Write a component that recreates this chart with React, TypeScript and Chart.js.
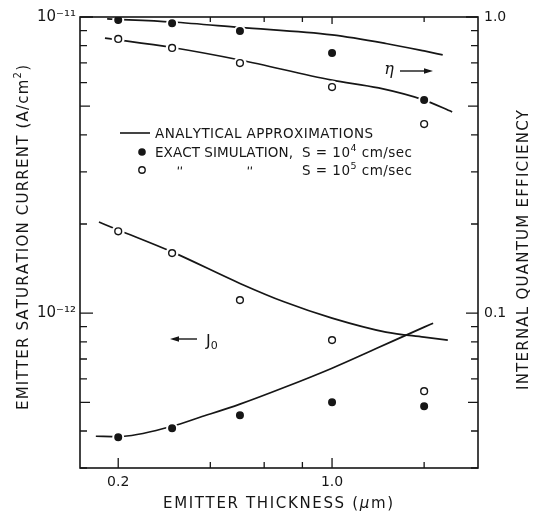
import { useEffect, useRef } from 'react';
import { Chart, registerables } from 'chart.js';

Chart.register(...registerables);

const FONT = '"DejaVu Sans", sans-serif';
const INK = '#161616';

// ---- data ----
const thickness = [0.2, 0.3, 0.5, 1.0, 2.0];
const etaExactS4 = [0.977, 0.952, 0.897, 0.756, 0.524];
const etaExactS5 = [0.843, 0.786, 0.699, 0.58, 0.435];
const j0ExactS4 = [3.81e-13, 4.09e-13, 4.52e-13, 5.0e-13, 4.85e-13];
const j0ExactS5 = [1.89e-12, 1.595e-12, 1.107e-12, 8.11e-13, 5.45e-13];

const etaApproxS4X = [0.184, 0.3, 0.5, 1.0, 1.5, 2.0, 2.3];
const etaApproxS4 = [0.985, 0.962, 0.922, 0.87, 0.814, 0.768, 0.745];
const etaApproxS5X = [0.181, 0.3, 0.5, 1.0, 1.42, 2.0, 2.47];
const etaApproxS5 = [0.849, 0.789, 0.716, 0.612, 0.576, 0.524, 0.478];
const j0ApproxS5X = [0.173, 0.2, 0.3, 0.5, 0.7, 1.0, 1.5, 2.0, 2.39];
const j0ApproxS5 = [2.03e-12, 1.91e-12, 1.61e-12, 1.26e-12, 1.09e-12, 9.62e-13, 8.63e-13, 8.3e-13, 8.11e-13];
const j0ApproxS4X = [0.169, 0.2, 0.3, 0.37, 0.5, 0.7, 1.0, 1.4, 2.0, 2.14];
const j0ApproxS4 = [3.84e-13, 3.83e-13, 4.15e-13, 4.45e-13, 4.93e-13, 5.62e-13, 6.52e-13, 7.61e-13, 8.97e-13, 9.25e-13];

// ---- ticks ----
const xTickValues = [0.2, 0.4, 0.6, 0.8, 1.0, 2.0];
const xLabelValues = [0.2, 1.0];
const xLabelTexts = ['0.2', '1.0'];
const leftTickValues = [
  3e-13, 4e-13, 5e-13, 6e-13, 7e-13, 8e-13, 9e-13,
  1e-12, 2e-12, 3e-12, 4e-12, 5e-12, 6e-12, 7e-12, 8e-12, 9e-12, 1e-11,
];
const leftLabelValues = [1e-12, 1e-11];
const leftLabelTexts = ['10⁻¹²', '10⁻¹¹'];
const rightTickValues = [
  0.03, 0.04, 0.05, 0.06, 0.07, 0.08, 0.09,
  0.1, 0.2, 0.3, 0.4, 0.5, 0.6, 0.7, 0.8, 0.9, 1.0,
];
const rightLabelValues = [0.1, 1.0];
const rightLabelTexts = ['0.1', '1.0'];

type Seg = { t: string; size: number; dy?: number; font?: string; style?: string };

function drawRich(
  ctx: CanvasRenderingContext2D,
  segs: Seg[],
  x: number,
  y: number,
  width: number | null,
  align: 'left' | 'center' | 'right'
) {
  const chars: { ch: string; font: string; w: number; dy: number }[] = [];
  for (const s of segs) {
    const f = `${s.style ?? ''} ${s.size}px ${s.font ?? FONT}`.trim();
    ctx.font = f;
    for (const ch of s.t) chars.push({ ch, font: f, w: ctx.measureText(ch).width, dy: s.dy ?? 0 });
  }
  const natural = chars.reduce((a, c) => a + c.w, 0);
  const gap = width && chars.length > 1 ? (width - natural) / (chars.length - 1) : 0;
  const total = width ?? natural;
  let cx = align === 'center' ? x - total / 2 : align === 'right' ? x - total : x;
  ctx.textAlign = 'left';
  ctx.textBaseline = 'alphabetic';
  for (const c of chars) {
    ctx.font = c.font;
    ctx.fillText(c.ch, cx, y + c.dy);
    cx += c.w + gap;
  }
}

const isDecade = (v: number) => Math.abs(Math.log10(v) - Math.round(Math.log10(v))) < 1e-9;
const isFive = (v: number) => {
  const m = v / Math.pow(10, Math.floor(Math.log10(v) + 1e-9));
  return Math.abs(m - 5) < 1e-6;
};

function ditto(ctx: CanvasRenderingContext2D, x: number, y: number) {
  ctx.beginPath();
  ctx.moveTo(x - 1.5, y);
  ctx.lineTo(x - 1.8, y + 3);
  ctx.moveTo(x + 1.5, y);
  ctx.lineTo(x + 1.2, y + 3);
  ctx.stroke();
}

const decorPlugin = {
  id: 'decor',
  afterDatasetsDraw(chart: any) {
    const ctx: CanvasRenderingContext2D = chart.ctx;
    const { left, right, top, bottom } = chart.chartArea;
    const xs = chart.scales.x;
    const ys = chart.scales.y;
    const ys1 = chart.scales.y1;
    ctx.save();
    ctx.strokeStyle = INK;
    ctx.lineWidth = 1.6;
    ctx.strokeRect(left, top, right - left, bottom - top);
    ctx.lineWidth = 1.3;
    ctx.beginPath();
    for (const v of leftTickValues) {
      const p = ys.getPixelForValue(v);
      const len = isDecade(v) ? 13 : isFive(v) ? 10 : 7;
      ctx.moveTo(left, p);
      ctx.lineTo(left + len, p);
    }
    for (const v of rightTickValues) {
      const p = ys1.getPixelForValue(v);
      const len = isDecade(v) ? 12 : isFive(v) ? 10 : 7;
      ctx.moveTo(right, p);
      ctx.lineTo(right - len, p);
    }
    for (const v of xTickValues) {
      const p = xs.getPixelForValue(v);
      const major = xLabelValues.includes(v);
      ctx.moveTo(p, bottom);
      ctx.lineTo(p, bottom - (major ? 10 : 6));
      ctx.moveTo(p, top);
      ctx.lineTo(p, top + (major ? 7 : 5));
    }
    ctx.stroke();
    ctx.restore();
  },
  afterDraw(chart: any) {
    const ctx: CanvasRenderingContext2D = chart.ctx;
    ctx.save();
    ctx.fillStyle = INK;
    ctx.strokeStyle = INK;

    // x title
    drawRich(ctx, [{ t: 'EMITTER THICKNESS (', size: 15 }, { t: 'μ', size: 15, style: 'italic' }, { t: 'm)', size: 15 }], 278, 508, 230, 'center');

    // left title
    ctx.save();
    ctx.translate(28, 237.5);
    ctx.rotate(-Math.PI / 2);
    drawRich(ctx, [{ t: 'EMITTER SATURATION CURRENT (A/cm', size: 15 }, { t: '2', size: 10, dy: -7 }, { t: ')', size: 15 }], 0, 0, 345, 'center');
    ctx.restore();

    // right title
    ctx.save();
    ctx.translate(528, 250);
    ctx.rotate(-Math.PI / 2);
    drawRich(ctx, [{ t: 'INTERNAL QUANTUM EFFICIENCY', size: 15 }], 0, 0, 280, 'center');
    ctx.restore();

    // legend
    ctx.lineWidth = 1.6;
    ctx.beginPath();
    ctx.moveTo(120, 133);
    ctx.lineTo(150, 133);
    ctx.stroke();
    drawRich(ctx, [{ t: 'ANALYTICAL APPROXIMATIONS', size: 13.5 }], 155, 137.5, 218, 'left');

    ctx.beginPath();
    ctx.arc(142, 152, 3.8, 0, Math.PI * 2);
    ctx.fill();
    drawRich(ctx, [{ t: 'EXACT SIMULATION,', size: 13.5 }], 155, 157, 138, 'left');
    drawRich(ctx, [{ t: 'S = 10', size: 13.5 }, { t: '4', size: 9.5, dy: -6 }, { t: ' cm/sec', size: 13.5 }], 302, 157, 110, 'left');

    ctx.lineWidth = 1.4;
    ctx.beginPath();
    ctx.arc(142, 170, 3.2, 0, Math.PI * 2);
    ctx.stroke();
    ctx.lineWidth = 1.1;
    ditto(ctx, 180, 166.5);
    ditto(ctx, 250, 166.5);
    drawRich(ctx, [{ t: 'S = 10', size: 13.5 }, { t: '5', size: 9.5, dy: -6 }, { t: ' cm/sec', size: 13.5 }], 302, 175, 110, 'left');

    // eta annotation
    drawRich(ctx, [{ t: 'η', size: 16, font: '"DejaVu Serif", serif', style: 'italic' }], 389, 74, null, 'center');
    ctx.lineWidth = 1.4;
    ctx.beginPath();
    ctx.moveTo(400, 71);
    ctx.lineTo(426, 71);
    ctx.stroke();
    ctx.beginPath();
    ctx.moveTo(433, 71);
    ctx.lineTo(424, 68.3);
    ctx.lineTo(424, 73.7);
    ctx.closePath();
    ctx.fill();

    // J0 annotation
    ctx.beginPath();
    ctx.moveTo(177, 339);
    ctx.lineTo(197, 339);
    ctx.stroke();
    ctx.beginPath();
    ctx.moveTo(170, 339);
    ctx.lineTo(179, 336.3);
    ctx.lineTo(179, 341.7);
    ctx.closePath();
    ctx.fill();
    drawRich(ctx, [{ t: 'J', size: 16 }, { t: '0', size: 11, dy: 3 }], 206, 346, null, 'left');

    ctx.restore();
  },
};

export default function App() {
  const ref = useRef<HTMLCanvasElement>(null);
  useEffect(() => {
    const canvas = ref.current!;
    const pts = (xs: number[], ys: number[]) => xs.map((x, i) => ({ x, y: ys[i] }));
    const filled = { pointRadius: 5, pointBackgroundColor: INK, pointBorderColor: '#fff', pointBorderWidth: 2, showLine: false, order: 0 };
    const open = { pointRadius: 3.4, pointBackgroundColor: '#fff', pointBorderColor: INK, pointBorderWidth: 1.4, showLine: false, order: 0 };
    const halo = { pointRadius: 6.5, pointBackgroundColor: '#fff', pointBorderColor: '#fff', pointBorderWidth: 0, showLine: false, order: 1 };
    const curve = { showLine: true, pointRadius: 0, borderColor: INK, borderWidth: 1.7, cubicInterpolationMode: 'monotone', order: 2 };
    const tickFont = { family: FONT, size: 14 };

    const chart = new Chart(canvas, {
      type: 'scatter',
      data: {
        datasets: [
          { label: 'η exact S=1e4', data: pts(thickness, etaExactS4), yAxisID: 'y1', ...filled },
          { label: 'η exact S=1e5', data: pts(thickness, etaExactS5), yAxisID: 'y1', ...open },
          { label: 'J0 exact S=1e4', data: pts(thickness, j0ExactS4), yAxisID: 'y', ...filled },
          { label: 'J0 exact S=1e5', data: pts(thickness, j0ExactS5), yAxisID: 'y', ...open },
          { label: 'halo η', data: pts(thickness, etaExactS5), yAxisID: 'y1', ...halo },
          { label: 'halo J0', data: pts(thickness, j0ExactS5), yAxisID: 'y', ...halo },
          { label: 'η approx S=1e4', data: pts(etaApproxS4X, etaApproxS4), yAxisID: 'y1', ...curve },
          { label: 'η approx S=1e5', data: pts(etaApproxS5X, etaApproxS5), yAxisID: 'y1', ...curve },
          { label: 'J0 approx S=1e5', data: pts(j0ApproxS5X, j0ApproxS5), yAxisID: 'y', ...curve },
          { label: 'J0 approx S=1e4', data: pts(j0ApproxS4X, j0ApproxS4), yAxisID: 'y', ...curve },
        ] as any,
      },
      options: {
        animation: false,
        responsive: false,
        devicePixelRatio: 1,
        layout: { padding: { top: 17, left: 0, right: 0, bottom: 0 } },
        plugins: { legend: { display: false }, tooltip: { enabled: false } },
        scales: {
          x: {
            type: 'logarithmic',
            position: 'bottom',
            min: 0.15,
            max: 3.0,
            afterBuildTicks: (s: any) => {
              s.ticks = xLabelValues.map((v) => ({ value: v }));
            },
            afterFit: (s: any) => {
              s.height = 46;
            },
            grid: { display: false, drawTicks: false },
            border: { display: false },
            ticks: {
              autoSkip: false,
              maxRotation: 0,
              padding: 6,
              color: INK,
              font: tickFont,
              callback: (_v: any, i: number) => xLabelTexts[i],
            },
          },
          y: {
            type: 'logarithmic',
            position: 'left',
            min: 3e-13,
            max: 1e-11,
            afterBuildTicks: (s: any) => {
              s.ticks = leftLabelValues.map((v) => ({ value: v }));
            },
            afterFit: (s: any) => {
              s.width = 80;
            },
            grid: { display: false, drawTicks: false },
            border: { display: false },
            ticks: {
              autoSkip: false,
              padding: 4,
              color: INK,
              font: { family: FONT, size: 15 },
              callback: (_v: any, i: number) => leftLabelTexts[i],
            },
          },
          y1: {
            type: 'logarithmic',
            position: 'right',
            min: 0.03,
            max: 1.0,
            afterBuildTicks: (s: any) => {
              s.ticks = rightLabelValues.map((v) => ({ value: v }));
            },
            afterFit: (s: any) => {
              s.width = 55;
            },
            grid: { display: false, drawTicks: false },
            border: { display: false },
            ticks: {
              autoSkip: false,
              padding: 6,
              color: INK,
              font: tickFont,
              callback: (_v: any, i: number) => rightLabelTexts[i],
            },
          },
        },
      } as any,
      plugins: [decorPlugin],
    });
    return () => chart.destroy();
  }, []);

  return (
    <div style={{ position: 'fixed', left: 0, top: 0, width: 533, height: 514, background: '#fff' }}>
      <canvas ref={ref} width={533} height={514} style={{ display: 'block' }} />
    </div>
  );
}
